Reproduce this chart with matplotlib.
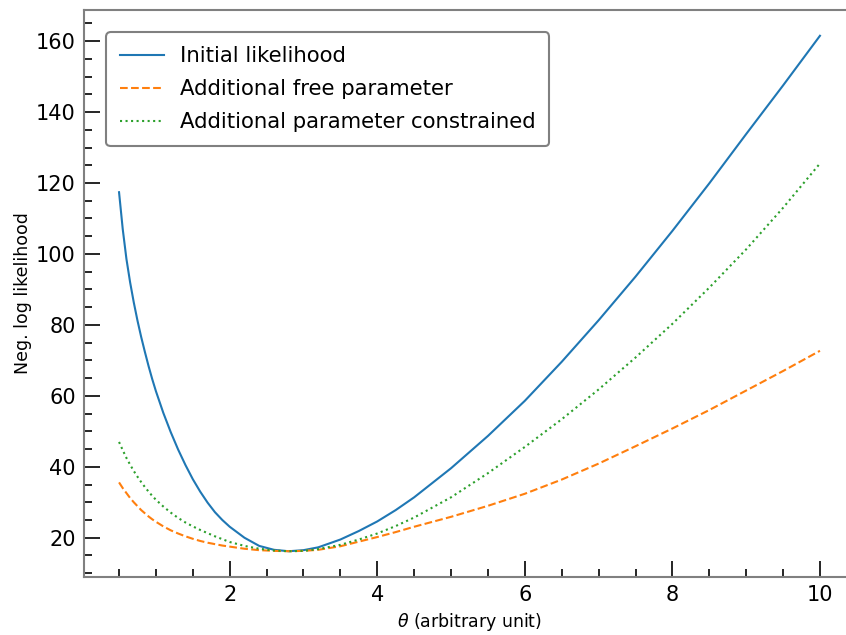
import matplotlib
matplotlib.use("Agg")
import matplotlib.pyplot as plt
from matplotlib.ticker import MultipleLocator

# ---- data ----
theta = [0.5, 0.55, 0.6, 0.65, 0.7, 0.75, 0.8, 0.85, 0.9, 0.95,
         1.0, 1.1, 1.2, 1.3, 1.4, 1.5, 1.6, 1.7, 1.8, 1.9,
         2.0, 2.2, 2.4, 2.6, 2.8, 3.0, 3.2, 3.5, 3.75, 4.0,
         4.25, 4.5, 5.0, 5.5, 6.0, 6.5, 7.0, 7.5, 8.0, 8.5,
         9.0, 9.5, 10.0]

initial = [117.4, 107.0, 98.6, 92.0, 86.3, 81.2, 76.6, 72.4, 68.4, 64.7,
           61.3, 55.2, 49.8, 44.9, 40.5, 36.5, 33.0, 29.9, 27.2, 25.0,
           23.1, 20.0, 17.7, 16.6, 16.2, 16.5, 17.3, 19.5, 21.9, 24.6,
           27.8, 31.4, 39.6, 48.7, 58.6, 69.6, 81.3, 93.6, 106.5, 119.9,
           133.8, 147.5, 161.5]

free_param = [35.6, 34.0, 32.6, 31.2, 30.0, 28.9, 27.8, 26.9, 26.0, 25.2,
              24.5, 23.2, 22.1, 21.2, 20.4, 19.7, 19.1, 18.6, 18.2, 17.8,
              17.5, 16.9, 16.5, 16.3, 16.2, 16.3, 16.6, 17.6, 18.9, 20.2,
              21.6, 23.1, 25.9, 29.0, 32.4, 36.4, 40.9, 45.8, 50.8, 56.0,
              61.5, 67.0, 72.7]

constrained = [47.0, 44.7, 42.5, 40.6, 38.8, 37.2, 35.7, 34.3, 33.0, 31.8,
               30.7, 28.8, 27.1, 25.6, 24.3, 23.2, 22.2, 21.3, 20.4, 19.6,
               18.8, 17.7, 16.9, 16.4, 16.2, 16.3, 16.8, 18.0, 19.5, 21.2,
               23.3, 25.7, 31.4, 38.2, 45.6, 53.4, 61.8, 70.8, 80.3, 90.5,
               101.3, 113.0, 125.5]

labels = ["Initial likelihood", "Additional free parameter",
          "Additional parameter constrained"]
xlabel = r"$\theta$ (arbitrary unit)"
ylabel = "Neg. log likelihood"

fig = plt.figure(figsize=(8.46, 6.35), dpi=100)
ax = fig.add_axes([84 / 846, 58 / 635, 771 / 846, 567 / 635])

ax.plot(theta, initial, color="tab:blue", lw=1.5, ls="-", label=labels[0])
ax.plot(theta, free_param, color="tab:orange", lw=1.5, ls="--", label=labels[1])
ax.plot(theta, constrained, color="tab:green", lw=1.5, ls=":", label=labels[2])

ax.xaxis.set_major_locator(MultipleLocator(2))
ax.xaxis.set_minor_locator(MultipleLocator(0.5))
ax.yaxis.set_major_locator(MultipleLocator(20))
ax.yaxis.set_minor_locator(MultipleLocator(5))

ax.tick_params(which="both", direction="in", top=False, right=False,
               colors="black", labelsize=15, pad=6)
ax.tick_params(which="major", length=11.5, width=1.2)
ax.tick_params(which="minor", length=5.5, width=1.2)

for side in ["left", "bottom", "top", "right"]:
    ax.spines[side].set_color("0.5")
    ax.spines[side].set_linewidth(1.5)

ax.set_xlabel(xlabel, fontsize=12.5, labelpad=4)
ax.set_ylabel(ylabel, fontsize=12.5, labelpad=3)

leg = ax.legend(loc="upper left", fontsize=15.3, borderaxespad=1.05,
                borderpad=0.65, labelspacing=0.62, handlelength=2.05,
                handletextpad=0.75, fancybox=True, framealpha=1.0)
leg.get_frame().set_edgecolor("0.5")
leg.get_frame().set_linewidth(1.5)

fig.savefig("out.png", dpi=100)
